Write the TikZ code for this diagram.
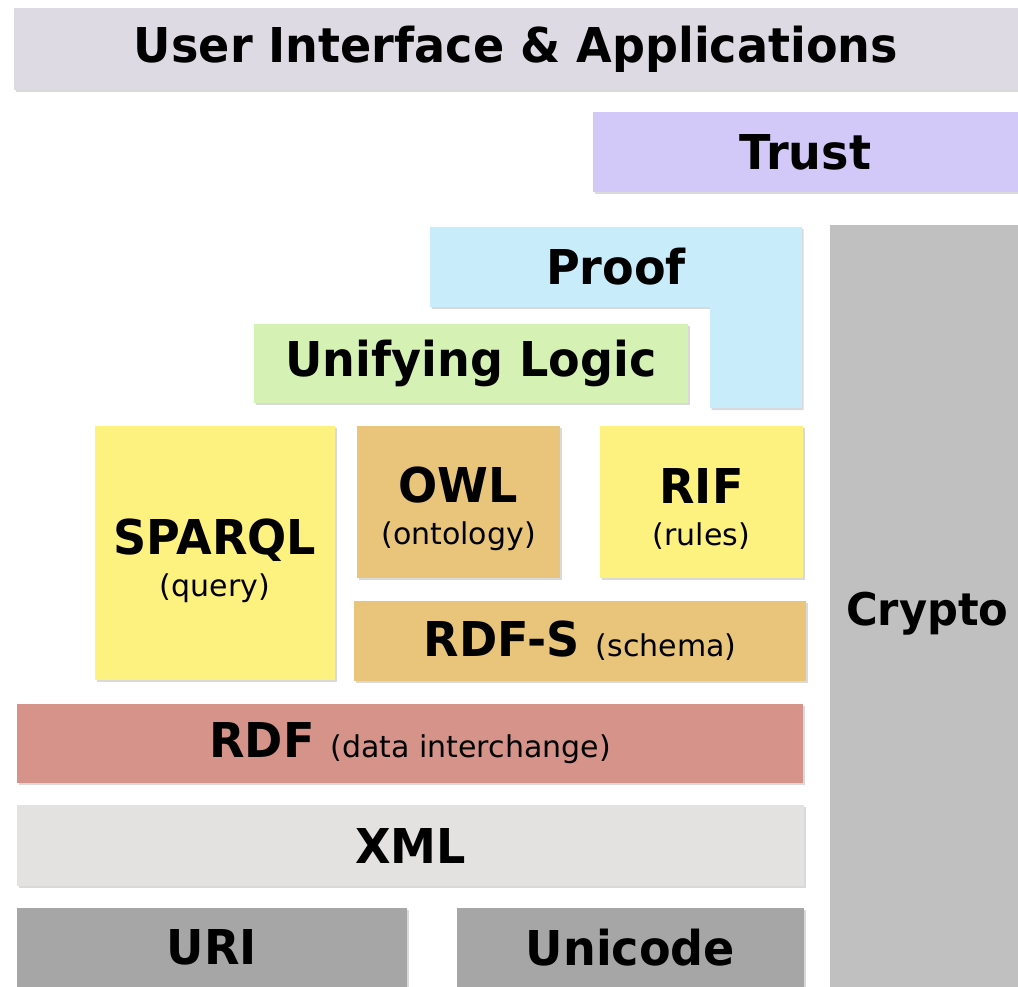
\documentclass[tikz,border=0pt]{standalone}
\usepackage{fontspec}
\setmainfont{DejaVu Sans}[BoldFeatures={FakeStretch=0.96}]
\definecolor{uicol}{RGB}{222, 218, 228}
\definecolor{trustcol}{RGB}{211, 201, 249}
\definecolor{proofcol}{RGB}{201, 236, 250}
\definecolor{logiccol}{RGB}{213, 242, 180}
\definecolor{yellowcol}{RGB}{253, 241, 128}
\definecolor{tancol}{RGB}{232, 197, 122}
\definecolor{rdfcol}{RGB}{214, 147, 138}
\definecolor{xmlcol}{RGB}{228, 225, 225}
\definecolor{basecol}{RGB}{166, 166, 166}
\definecolor{cryptocol}{RGB}{192, 192, 192}
\usetikzlibrary{shadows}
\tikzset{
  layer/.style={
    anchor=north west, inner sep=0, outer sep=0,
    drop shadow={shadow xshift=1.5pt, shadow yshift=-2pt, opacity=0.3},
    font=\bfseries\fontsize{48}{52}\selectfont, align=center
  },
  layertext/.style={inner sep=0, align=center, font=\bfseries\fontsize{48}{52}\selectfont}
}
\newcommand{\sublabel}[1]{{\mdseries\fontsize{30}{34}\selectfont #1}}

\begin{document}
\begin{tikzpicture}[x=1pt,y=-1pt]
  \useasboundingbox (0,0) rectangle (1018,987);
  % top layers
  \node[layer, fill=uicol, minimum width=1004, minimum height=82] (ui) at (14,8) {User Interface \& Applications};
  \node[layer, fill=trustcol, minimum width=425, minimum height=80] (trust) at (593,112) {Trust};
  \node[layer, fill=cryptocol, minimum width=188, minimum height=762] (crypto) at (830,225) {};
  \node[layertext, anchor=base west, font=\bfseries\fontsize{45}{50}\selectfont] (cryptolabel) at (846,625) {Crypto};
  % proof is an L shape
  \fill[proofcol, drop shadow={shadow xshift=1.5pt, shadow yshift=-2pt, opacity=0.3}]
    (430,227) -- (802,227) -- (802,408) -- (710,408) -- (710,307) -- (430,307) -- cycle;
  \node[layertext] (proof) at (616,267) {Proof};
  \node[layer, fill=logiccol, minimum width=434, minimum height=79] (logic) at (254,324) {Unifying Logic};
  % query, ontology, rules
  \node[layer, fill=yellowcol, minimum width=240, minimum height=254] (sparql) at (95,426) {};
  \node[layertext] (sparqllabel) at ([yshift=-8pt]sparql.center) {SPARQL\\[-10pt]\sublabel{(query)}};
  \node[layer, fill=tancol, minimum width=203, minimum height=152] (owl) at (357,426) {};
  \node[layertext] (owllabel) at ([yshift=-7pt]owl.center) {OWL\\[-10pt]\sublabel{(ontology)}};
  \node[layer, fill=yellowcol, minimum width=203, minimum height=152] (rif) at (600,426) {};
  \node[layertext] (riflabel) at ([yshift=-7pt]rif.center) {RIF\\[-10pt]\sublabel{(rules)}};
  \node[layer, fill=tancol, minimum width=452, minimum height=80] (rdfs) at (354,601) {RDF-S \sublabel{(schema)}};
  % data layers
  \node[layer, fill=rdfcol, minimum width=786, minimum height=79] (rdf) at (17,704) {RDF \sublabel{(data interchange)}};
  \node[layer, fill=xmlcol, minimum width=787, minimum height=81] (xml) at (17,805) {XML};
  \node[layer, fill=basecol, minimum width=390, minimum height=79] (uri) at (17,908) {URI};
  \node[layer, fill=basecol, minimum width=347, minimum height=79] (unicode) at (457,908) {Unicode};
\end{tikzpicture}
\end{document}
